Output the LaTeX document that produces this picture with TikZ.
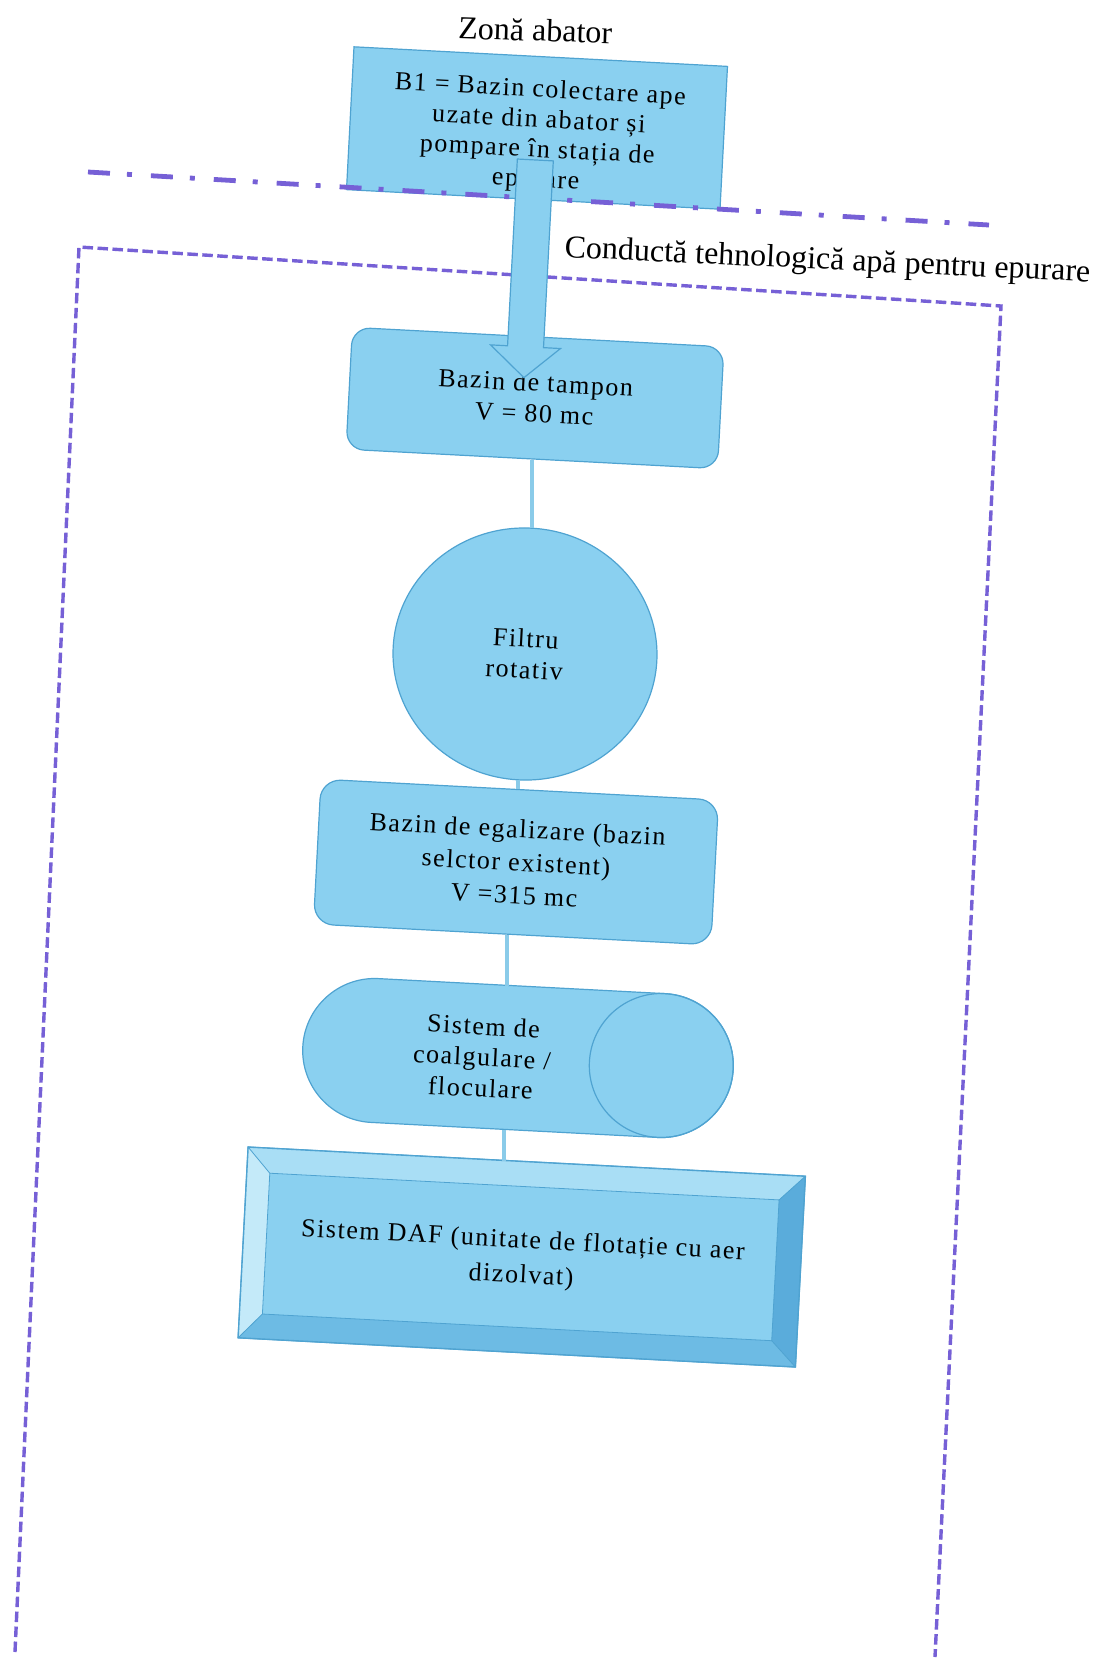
\documentclass[tikz,border=0pt]{standalone}
\usepackage{fontspec}
\setmainfont{Liberation Serif}
\newfontfamily\boxfont[LetterSpace=6]{Liberation Serif}
\usetikzlibrary{shapes.geometric}
\definecolor{boxfill}{HTML}{8AD0F0}
\definecolor{boxline}{HTML}{4FA3D1}
\definecolor{conn}{HTML}{8ACBE9}
\definecolor{dashc}{HTML}{7660D6}
\definecolor{bevL}{HTML}{C4EAF9}
\definecolor{bevT}{HTML}{A9DEF5}
\definecolor{bevR}{HTML}{5AACDB}
\definecolor{bevB}{HTML}{6DBBE4}
\begin{document}
\begin{tikzpicture}[x=0.5pt,y=-0.5pt,
  proc/.style={draw=boxline, line width=0.6pt, fill=boxfill, rotate=-3, align=center,
    font=\boxfont\fontsize{13}{15.5}\selectfont, inner sep=0pt},
  plain/.style={rotate=-3, align=center, inner sep=0pt,
    font=\boxfont\fontsize{13}{15.5}\selectfont},
  link/.style={draw=conn, line width=2pt},
  zone/.style={draw=dashc, line width=2.4pt, dash pattern=on 11pt off 8.5pt on 2.5pt off 9.5pt},
  bound/.style={draw=dashc, line width=1.7pt, dash pattern=on 5.25pt off 2.25pt},
  lbl/.style={font=\fontsize{16}{19}\selectfont, inner sep=0pt}
]
\useasboundingbox (0,0) rectangle (1101,1661);
\fill[white] (0,0) rectangle (1101,1661);

% zone label and B1
\node[lbl, anchor=base, rotate=-2] (zona) at (535,41) {Zonă abator};
\node[proc, minimum width=187pt, minimum height=71.5pt] (b1) at (537,128) {};
\node[plain, font=\boxfont\fontsize{13}{15}\selectfont] (b1t) at (538,136)
  {B1 = Bazin colectare ape\\uzate din abator și\\pompare în stația de\\epurare};

% zone border (dash-dot)
\coordinate (zl) at (88,172);
\coordinate (zr) at (989,225);
\draw[zone] (zl) -- (zr);

% plant boundary (dashed)
\coordinate (bbl) at (15,1652);
\coordinate (btl) at (79,247);
\coordinate (btr) at (1001,306);
\coordinate (bbr) at (935,1657);
\draw[bound] (bbl) -- (btl) -- (btr) -- (bbr);

\node[lbl, anchor=base west, rotate=-2.7] (cond) at (564,257)
  {Conductă tehnologică apă pentru epurare};

% process boxes
\node[proc, rounded corners=9pt, minimum width=186pt, minimum height=61pt] (tampon)
  at (535,398) {Bazin de tampon\\V = 80 mc};
\node[proc, ellipse, minimum width=132pt, minimum height=126pt] (filtru)
  at (525,654) {Filtru\\rotativ};
\node[proc, rounded corners=10pt, minimum width=199pt, minimum height=72.5pt,
  font=\boxfont\fontsize{13}{16.5}\selectfont] (egal)
  at (516,862) {Bazin de egalizare (bazin\\selctor existent)\\V =315 mc};

% coagulation cylinder
\begin{scope}[shift={(518,1058)}, rotate=-3]
  \draw[draw=boxline, line width=0.6pt, fill=boxfill]
    (-143.5,-72) -- (143.5,-72) arc(-90:90:72) -- (-143.5,72) arc(90:270:72) -- cycle;
  \draw[draw=boxline, line width=0.6pt] (143.5,0) circle (72);
\end{scope}
\node[rotate=-3, minimum width=215.5pt, minimum height=72pt, inner sep=0pt] (coag) at (518,1058) {};
\node[plain] (coagt) at (482,1057) {Sistem de\\coalgulare /\\floculare};

% DAF bevel box
\node[draw=boxline, line width=0.6pt, fill=boxfill, rotate=-3, minimum width=279pt,
  minimum height=95.5pt, inner sep=0pt] (daf) at (521.75,1257) {};
\begin{scope}[shift={(521.75,1257)}, rotate=-3, line width=0.4pt]
  \fill[bevT] (-279,-95.5) -- (279,-95.5) -- (254,-70.5) -- (-256,-70.5) -- cycle;
  \fill[bevL] (-279,-95.5) -- (-256,-70.5) -- (-256,70.5) -- (-279,95.5) -- cycle;
  \fill[bevR] (279,-95.5) -- (279,95.5) -- (254,70.5) -- (254,-70.5) -- cycle;
  \fill[bevB] (-279,95.5) -- (-256,70.5) -- (254,70.5) -- (279,95.5) -- cycle;
  \draw[boxline] (-256,-70.5) rectangle (254,70.5);
  \draw[boxline] (-279,-95.5) -- (-256,-70.5) (279,-95.5) -- (254,-70.5)
    (-279,95.5) -- (-256,70.5) (279,95.5) -- (254,70.5);
  \draw[boxline, line width=0.7pt] (-279,-95.5) rectangle (279,95.5);
\end{scope}
\node[plain, font=\boxfont\fontsize{13}{17.5}\selectfont] (daft) at (522,1259)
  {Sistem DAF (unitate de flotație cu aer\\dizolvat)};

% connectors
\draw[link] (tampon.south) -- (tampon.south |- filtru.north);
\draw[link] (filtru.south) -- (filtru.south |- egal.north);
\draw[link] ([xshift=-2.5pt]egal.south) -- ([xshift=-2.5pt]egal.south |- coag.north);
\draw[link] ([xshift=-5pt]coag.south) -- ([xshift=-5pt]coag.south |- daf.north);

% block arrow from B1 to the buffer tank
\begin{scope}[shift={(b1.center)}, rotate=-3]
  \filldraw[fill=boxfill, draw=boxline, line width=0.6pt]
    (-18,32) -- (18,32) -- (18,219) -- (35,219) -- (0,250) -- (-35,219) -- (-18,219) -- cycle;
\end{scope}
\end{tikzpicture}
\end{document}
